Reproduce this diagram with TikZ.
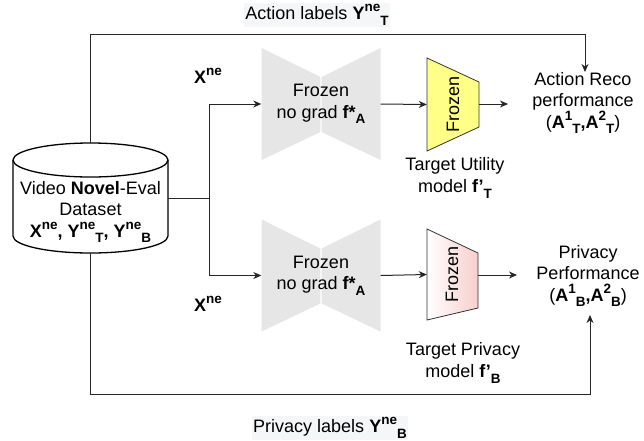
\documentclass[tikz,border=0pt]{standalone}
\usepackage{fontspec}
\setmainfont{Liberation Sans}
\usetikzlibrary{arrows.meta,calc}
\definecolor{frz}{HTML}{E6E6E6}
\definecolor{util}{HTML}{FFFF88}
\definecolor{priv}{HTML}{F8CECC}
\definecolor{lblbg}{HTML}{F5F6F7}
% base letter with a superscript followed by a subscript, side by side
\newcommand\scr[1]{{\fontsize{13.5}{13.5}\selectfont #1}}
\newcommand\supsub[3]{#1\raisebox{0.42em}{\scr{#2}}\raisebox{-0.32em}{\scr{#3}}}
\newcommand\prm{{\char"0027}}

\begin{document}
\begin{tikzpicture}[x=1pt,y=-1pt,
  font=\fontsize{18}{21.5}\selectfont,
  conn/.style={line width=1pt, draw=black!85},
  arr/.style={conn,-{Stealth[length=8pt,width=7pt,inset=2.5pt]}},
  txt/.style={align=center, inner sep=0pt},
  lbl/.style={fill=lblbg, inner sep=1.5pt},
  encbox/.style={inner sep=0pt, minimum width=119pt, minimum height=112pt},
  trapbox/.style={inner sep=0pt, minimum width=52pt, minimum height=93pt},
  trapline/.style={draw=black!80, line width=0.8pt}]
\useasboundingbox (0,0) rectangle (644,440);

% ---- layout anchors
\coordinate (c1) at (321,104);
\coordinate (c2) at (321,275.5);
\coordinate (t1) at (453,104.5);
\coordinate (t2) at (453,274.5);

% ---- frozen encoders (two halves of a bow tie)
\foreach \c in {c1,c2}{
  \fill[frz] ($(\c)+(-59.5,-56)$) -- ($(\c)+(-0.6,-27)$) -- ($(\c)+(-0.6,28)$) -- ($(\c)+(-59.5,56)$) -- cycle;
  \fill[frz] ($(\c)+(0.6,-27)$) -- ($(\c)+(59.5,-56)$) -- ($(\c)+(59.5,56)$) -- ($(\c)+(0.6,28)$) -- cycle;
}

% ---- target models (trapezoids)
\filldraw[trapline, fill=util] ($(t1)+(-26,-46.5)$) -- ($(t1)+(26,-22.5)$) -- ($(t1)+(26,22.5)$) -- ($(t1)+(-26,46.5)$) -- cycle;
\draw[trapline, left color=white, right color=priv] ($(t2)+(-26,-45.5)$) -- ($(t2)+(25,-21.5)$) -- ($(t2)+(25,33.5)$) -- ($(t2)+(-26,45.5)$) -- cycle;

% ---- dataset cylinder
\draw[line width=1.3pt, fill=white] (13,160) -- (13,236) arc[start angle=180, end angle=0, x radius=77.5, y radius=17] -- (168,160);
\draw[line width=1.3pt, fill=white] (90.5,160) ellipse [x radius=77.5, y radius=17];
\node[inner sep=0pt, minimum width=155pt, minimum height=110pt] (db) at (90.5,198) {};
\node[txt] (dbtext) at (90.5,212) {Video \textbf{Novel}-Eval\\Dataset\\\textbf{\supsub{X}{ne}{}, \supsub{Y}{ne}{T}, \supsub{Y}{ne}{B}}};

% ---- node boxes
\node[encbox, txt] (enc1) at (c1) {Frozen\\no grad \textbf{\supsub{f*}{}{A}}};
\node[encbox, txt] (enc2) at (c2) {Frozen\\no grad \textbf{\supsub{f*}{}{A}}};
\node[trapbox] (tz1) at (t1) {};
\node[trapbox] (tz2) at (t2) {};
\node[rotate=90, inner sep=0pt] (fz1) at (t1) {Frozen};
\node[rotate=90, inner sep=0pt] (fz2) at ($(t2)+(-1,0)$) {Frozen};

\node[txt] (tuti) at (455,178) {Target Utility\\model \textbf{\supsub{f\prm}{}{T}}};
\node[txt] (tpriv) at (463,363) {Target Privacy\\model \textbf{\supsub{f\prm}{}{B}}};

\node[txt] (act) at (583,103) {Action Reco\\performance\\(\textbf{\supsub{A}{1}{T},\supsub{A}{2}{T}})};
\node[txt] (prf) at (588,276) {Privacy\\Performance\\(\textbf{\supsub{A}{1}{B},\supsub{A}{2}{B}})};

\node[txt] (x1) at (208,79) {\textbf{\supsub{X}{ne}{}}};
\node[txt] (x2) at (208,307) {\textbf{\supsub{X}{ne}{}}};

\node[lbl] (albl) at (317,15) {Action labels \textbf{\supsub{Y}{ne}{T}}};
\node[lbl] (plbl) at (330,428) {Privacy labels \textbf{\supsub{Y}{ne}{B}}};

% ---- connectors
\coordinate (split) at (209,198);
\coordinate (topleft) at (90.5,34);
\coordinate (topright) at (585,34);
\coordinate (actin) at (585,72);
\coordinate (botright) at (590,394);
\coordinate (prfin) at (590,315);
\coordinate (tz1out) at (479,104);
\coordinate (tz2out) at (478,275);
\coordinate (actleft) at (508,104);
\coordinate (prfleft) at (517,275);

\draw[conn] (db.east) -- (split);
\draw[arr] (split) |- (enc1.west);
\draw[arr] (split) |- (enc2.west);
\draw[arr] (enc1.east) -- (tz1.west);
\draw[arr] (enc2.east) -- (tz2.west);
\draw[arr] (tz1out) -- (actleft);
\draw[arr] (tz2out) -- (prfleft);
\draw[arr] (db.north) -- (topleft) -- (topright) -- (actin);
\draw[arr] (db.south) |- (botright) -- (prfin);
\end{tikzpicture}
\end{document}
